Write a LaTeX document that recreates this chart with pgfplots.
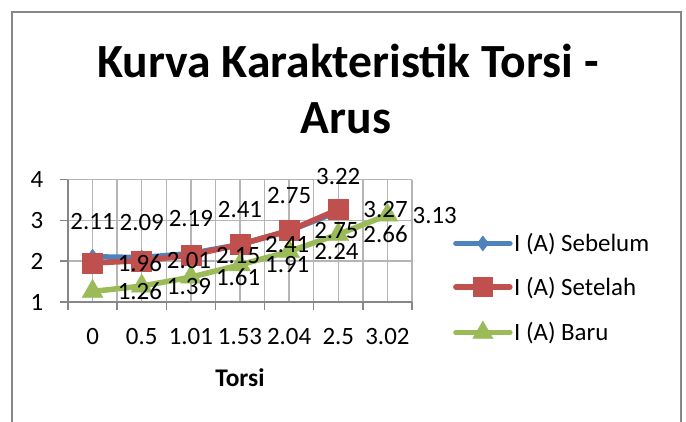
\documentclass[border=0pt]{standalone}
\usepackage{fontspec}
\setmainfont{Carlito}
\usepackage{pgfplots}
\pgfplotsset{compat=1.18}
\definecolor{sblue}{HTML}{4F81BD}
\definecolor{sred}{HTML}{C0504D}
\definecolor{sgreen}{HTML}{9BBB59}
\definecolor{gridc}{HTML}{B5B5B5}
\definecolor{axisc}{HTML}{878787}
\definecolor{framec}{HTML}{878787}
\newcommand{\lblfont}{\fontsize{25}{30}\selectfont}
\newcommand{\lbl}{\pgfmathprintnumber[fixed,fixed zerofill,precision=2]{\pgfplotspointmeta}}
\begin{document}
\begin{tikzpicture}[x=1bp,y=1bp]
\useasboundingbox (0,0) rectangle (686,421);
\draw[framec, line width=1.3bp] (12,-5) -- (12,409) -- (681,409) -- (681,-5);
\node[font=\fontsize{47.8}{56}\selectfont\bfseries, anchor=base, inner sep=0pt] at (348,344) {Kurva Karakteristik Torsi -};
\node[font=\fontsize{47.8}{56}\selectfont\bfseries, anchor=base, inner sep=0pt] at (346,288) {Arus};
\begin{axis}[
  at={(68bp,119bp)}, anchor=south west,
  scale only axis, width=344bp, height=122.3bp,
  xmin=-0.5, xmax=6.5, ymin=1, ymax=4,
  clip=false,
  xtick={-0.5,0.5,1.5,2.5,3.5,4.5,5.5,6.5},
  xticklabels={0,0.5,1.01,1.53,2.04,2.5,3.02,{}},
  minor xtick={0,1,2,3,4,5,6},
  ytick={1,2,3,4},
  xmajorgrids, xminorgrids, ymajorgrids,
  grid style={gridc, line width=1.5bp},
  minor grid style={gridc, line width=1.5bp},
  axis x line*=bottom, axis y line*=left,
  axis line style={-, axisc, line width=1.5bp},
  tick align=outside, tick pos=left,
  major tick length=8bp, minor tick length=0bp,
  tick style={axisc, line width=1.5bp},
  /pgf/number format/assume math mode=true,
  ticklabel style={font=\lblfont, text=black, inner sep=0pt},
  xticklabel style={anchor=north, xshift=24.57bp, yshift=-18bp},
  yticklabel style={anchor=east, xshift=-16.5bp},
  xlabel={Torsi},
  xlabel style={font=\fontsize{25.5}{30}\selectfont\bfseries, at={(axis description cs:0.5,0)}, anchor=base, inner sep=0pt, yshift=-84bp},
  legend style={at={(axis description cs:1.119,0.1145)}, anchor=west, draw=none, fill=none, inner sep=0pt,
    font=\lblfont, row sep=24bp, cells={anchor=west},
    nodes={inner xsep=1.5bp, inner ysep=0pt},
    /tikz/every even column/.append style={column sep=0pt}},
  legend image code/.code={\draw[#1, mark repeat=2, mark phase=2] plot coordinates {(0bp,0bp) (27bp,0bp) (54bp,0bp)};},
]
% series lines and markers
\addplot[forget plot, sblue, line width=5.5bp, line cap=round, line join=round,
  mark=diamond*, mark size=7.5bp, mark options={solid, line width=0.5bp, fill=sblue}]
  coordinates {(0,2.11) (1,2.09) (2,2.19) (3,2.41) (4,2.75) (5,3.22)};
\addplot[forget plot, sred, line width=5.5bp, line cap=round, line join=round,
  mark=square*, mark size=10bp, mark options={solid, line width=0.5bp, fill=sred}]
  coordinates {(0,1.96) (1,2.01) (2,2.15) (3,2.41) (4,2.75) (5,3.27)};
\addplot[forget plot, sgreen, line width=5.5bp, line cap=round, line join=round,
  mark=triangle*, mark size=12bp, mark options={solid, line width=0.5bp, fill=sgreen}]
  coordinates {(0,1.26) (1,1.39) (2,1.61) (3,1.91) (4,2.24) (5,2.66) (6,3.13)};
% data labels on top
\addplot[forget plot, draw=none, mark=none,
  nodes near coords={\lbl}, every node near coord/.append style={font=\lblfont, text=black, inner sep=0pt, anchor=center, yshift=35bp}]
  coordinates {(0,2.11) (1,2.09) (2,2.19) (3,2.41) (4,2.75) (5,3.22)};
\addplot[forget plot, draw=none, mark=none,
  nodes near coords={\lbl}, every node near coord/.append style={font=\lblfont, text=black, inner sep=0pt, anchor=west, xshift=25bp}]
  coordinates {(0,1.96) (1,2.01) (2,2.15) (3,2.41) (4,2.75) (5,3.27)};
\addplot[forget plot, draw=none, mark=none,
  nodes near coords={\lbl}, every node near coord/.append style={font=\lblfont, text=black, inner sep=0pt, anchor=west, xshift=25bp}]
  coordinates {(0,1.26) (1,1.39) (2,1.61) (3,1.91) (4,2.24) (5,2.66) (6,3.13)};
\addlegendimage{sblue, line width=5.5bp, line cap=round, mark=diamond*, mark size=7.5bp, mark options={solid, line width=0.5bp, fill=sblue}}
\addlegendentry{I (A) Sebelum}
\addlegendimage{sred, line width=5.5bp, line cap=round, mark=square*, mark size=9.5bp, mark options={solid, line width=0.5bp, fill=sred}}
\addlegendentry{I (A) Setelah}
\addlegendimage{sgreen, line width=5.5bp, line cap=round, mark=triangle*, mark size=11.5bp, mark options={solid, line width=0.5bp, fill=sgreen}}
\addlegendentry{I (A) Baru}
\end{axis}
\end{tikzpicture}
\end{document}
